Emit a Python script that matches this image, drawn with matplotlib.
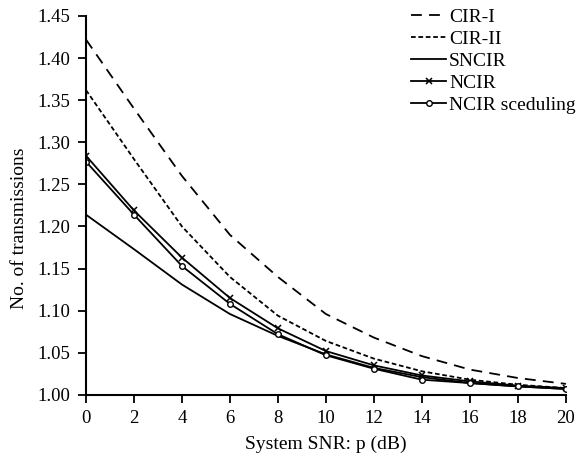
import matplotlib
matplotlib.use("Agg")
import matplotlib.pyplot as plt

plt.rcParams['font.family'] = ['Liberation Serif', 'DejaVu Serif']

snr_db = [0, 2, 4, 6, 8, 10, 12, 14, 16, 18, 20]

cir_1 = [1.422, 1.340, 1.260, 1.190, 1.140, 1.096, 1.068, 1.046, 1.030, 1.020, 1.013]
cir_2 = [1.362, 1.280, 1.200, 1.140, 1.094, 1.064, 1.043, 1.028, 1.018, 1.012, 1.008]
sncir = [1.214, 1.173, 1.131, 1.096, 1.070, 1.048, 1.032, 1.021, 1.014, 1.010, 1.007]
ncir = [1.284, 1.219, 1.163, 1.115, 1.079, 1.052, 1.035, 1.023, 1.016, 1.011, 1.008]
ncir_sched = [1.277, 1.214, 1.153, 1.108, 1.072, 1.047, 1.031, 1.018, 1.014, 1.010, 1.007]

fig = plt.figure(figsize=(5.81, 4.57), dpi=100)
ax = fig.add_axes([0.148, 0.136, 0.826, 0.829])

lw = 1.3
ax.plot(snr_db, cir_1, color='black', lw=lw, linestyle=(0, (6, 4)), label='CIR-I')
ax.plot(snr_db, cir_2, color='black', lw=lw, linestyle=(0, (2.6, 1.5)), label='CIR-II')
ax.plot(snr_db, sncir, color='black', lw=lw, label='SNCIR')
ax.plot(snr_db, ncir, color='black', lw=lw, marker='x', markersize=5,
        markeredgewidth=1.1, label='NCIR')
ax.plot(snr_db, ncir_sched, color='black', lw=lw, marker='o', markersize=4,
        markerfacecolor='white', markeredgewidth=1.0, label='NCIR sceduling')

ax.set_xlim(0, 20)
ax.set_ylim(1.0, 1.45)
ax.set_xticks(snr_db)
ax.set_yticks([1.00, 1.05, 1.10, 1.15, 1.20, 1.25, 1.30, 1.35, 1.40, 1.45])
ax.set_yticklabels(['1.00', '1.05', '1.10', '1.15', '1.20', '1.25', '1.30', '1.35', '1.40', '1.45'])
ax.tick_params(axis='both', direction='out', length=6, width=1.3, labelsize=13.5, pad=5)
for side in ('top', 'right'):
    ax.spines[side].set_visible(False)
for side in ('left', 'bottom'):
    ax.spines[side].set_linewidth(1.5)

ax.set_xlabel('System SNR: p (dB)', fontsize=14, labelpad=6)
ax.set_ylabel('No. of transmissions', fontsize=14)
ax.yaxis.set_label_coords(-0.12, 0.44)

ax.legend(loc='upper right', bbox_to_anchor=(1.057, 1.066), frameon=False, fontsize=14,
          handlelength=1.8, handletextpad=0.15, labelspacing=0.22)

fig.savefig('out.png', dpi=100)
